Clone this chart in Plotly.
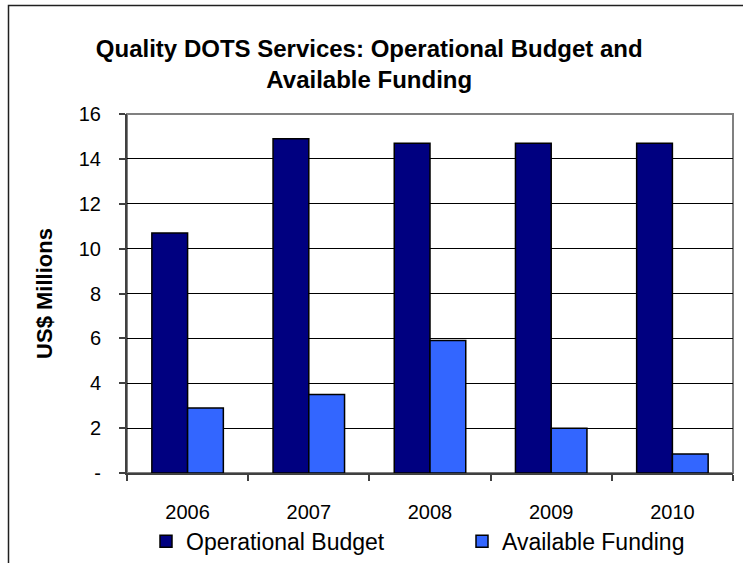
import plotly.graph_objects as go

# Budget data (US$ millions)
years = ["2006", "2007", "2008", "2009", "2010"]
operational_budget = [10.7, 14.9, 14.7, 14.7, 14.7]
available_funding = [2.9, 3.5, 5.9, 2.0, 0.85]

y_tick_values = [0, 2, 4, 6, 8, 10, 12, 14, 16]
y_tick_labels = ["-", "2", "4", "6", "8", "10", "12", "14", "16"]

FONT = "Liberation Sans, Arial, sans-serif"
NAVY = "#000080"
BLUE = "#3366FF"

fig = go.Figure()
fig.add_trace(go.Bar(
    name="Operational Budget", x=years, y=operational_budget,
    marker=dict(color=NAVY, line=dict(color="#000000", width=1.5)),
    legend="legend",
))
fig.add_trace(go.Bar(
    name="Available Funding", x=years, y=available_funding,
    marker=dict(color=BLUE, line=dict(color="#000000", width=1.5)),
    legend="legend2",
))

legend_style = dict(
    orientation="h", xanchor="left", y=-0.19, yanchor="middle",
    font=dict(family=FONT, size=23, color="#000000"),
    bgcolor="rgba(0,0,0,0)",
)

fig.update_layout(
    width=743, height=563,
    margin=dict(l=127, r=10, t=114, b=90, autoexpand=False),
    paper_bgcolor="white", plot_bgcolor="white",
    barmode="group", bargap=0.41, bargroupgap=0,
    font=dict(family=FONT, color="#000000", size=20),
    showlegend=True,
    title=dict(
        text="<b>Quality DOTS Services: Operational Budget and<br>Available Funding</b>",
        font=dict(family=FONT, size=24, color="#000000"),
        x=0.497, xref="container", xanchor="center",
        y=1 - 57 / 563, yref="container", yanchor="middle",
    ),
    legend=dict(x=(146 - 127) / 606, **legend_style),
    legend2=dict(x=(462 - 127) / 606, **legend_style),
)

fig.update_xaxes(
    showline=True, linecolor="#404040", linewidth=2,
    ticks="outside", tickson="boundaries", ticklen=6, tickcolor="#404040", tickwidth=1.5,
    ticklabelstandoff=20, tickfont=dict(size=20),
    showgrid=False,
)
fig.update_yaxes(
    range=[0, 16], tickvals=y_tick_values, ticktext=y_tick_labels,
    showline=True, linecolor="#404040", linewidth=2,
    ticks="outside", ticklen=6, tickcolor="#404040", tickwidth=1.5,
    ticklabelstandoff=14, tickfont=dict(size=20),
    showgrid=True, gridcolor="#000000", gridwidth=1,
    zeroline=False,
    title=dict(text="<b>US$ Millions</b>", font=dict(family=FONT, size=22), standoff=20),
)

# Plot-area border on the top and right edges
fig.add_shape(type="rect", xref="paper", yref="paper", x0=0, x1=1, y0=0, y1=1,
              line=dict(color="#808080", width=2), layer="below")
# Outer chart frame (top and left edges visible)
fig.add_shape(type="rect", xref="paper", yref="paper",
              x0=(8.5 - 127) / 606, x1=(820 - 127) / 606,
              y0=(473 - 650) / 359, y1=(473 - 5.5) / 359,
              line=dict(color="#202020", width=1.5), layer="below")

fig.write_html("out.html")
